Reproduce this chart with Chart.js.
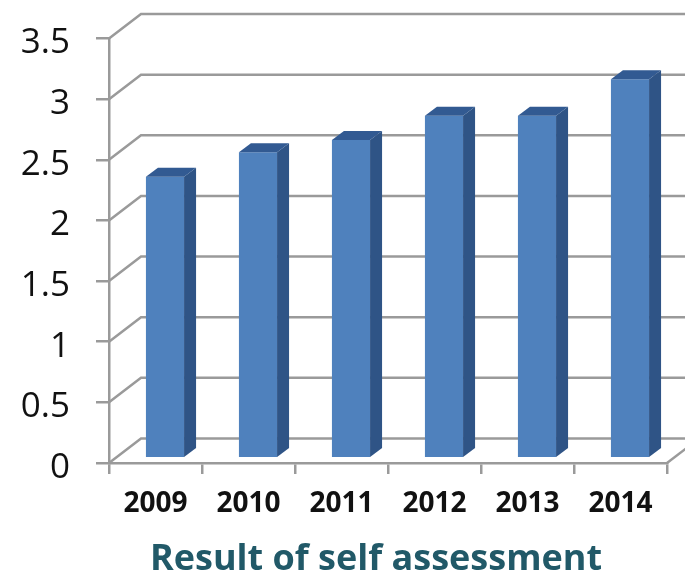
<!DOCTYPE html>
<html>
<head>
<meta charset="utf-8">
<style>html,body{margin:0;padding:0;background:#fff}#wrap{width:685px;height:577px}</style>
<script src="https://cdn.jsdelivr.net/npm/chart.js@4"></script>
</head>
<body>
<div id="wrap"><canvas id="c" width="685" height="577"></canvas></div>
<script>
const categories = ['2009','2010','2011','2012','2013','2014'];
const selfAssessment = [2.3,2.5,2.6,2.8,2.8,3.1];
const axisTitle = 'Result of self assessment';

const GRID = '#9a9a9a';
const wallDx = 32, wallDy = 24.5;
const barShift = 9.5, depthX = 12, depthY = 9;

const walls3d = {
  id: 'walls3d',
  beforeDatasetsDraw(chart) {
    const { ctx, scales: { x, y } } = chart;
    ctx.save();
    ctx.strokeStyle = GRID;
    ctx.lineWidth = 2.5;
    ctx.lineJoin = 'miter';
    y.ticks.forEach(t => {
      const py = y.getPixelForValue(t.value);
      ctx.beginPath();
      ctx.moveTo(x.left, py);
      ctx.lineTo(x.left + wallDx, py - wallDy);
      ctx.lineTo(chart.width + 5, py - wallDy);
      ctx.stroke();
    });
    const by = y.getPixelForValue(0);
    ctx.beginPath();
    ctx.moveTo(x.right, by);
    ctx.lineTo(x.right + wallDx, by - wallDy);
    ctx.stroke();
    ctx.restore();
  },
  beforeDatasetDraw(chart) {
    chart.ctx.save();
    chart.ctx.translate(barShift, 0);
  },
  afterDatasetDraw(chart, args) {
    const ctx = chart.ctx;
    args.meta.data.forEach(b => {
      const l = b.x - b.width / 2, r = b.x + b.width / 2;
      ctx.fillStyle = '#2f5486';
      ctx.beginPath();
      ctx.moveTo(r, b.y);
      ctx.lineTo(r + depthX, b.y - depthY);
      ctx.lineTo(r + depthX, b.base - depthY);
      ctx.lineTo(r, b.base);
      ctx.closePath();
      ctx.fill();
      ctx.fillStyle = '#325a92';
      ctx.beginPath();
      ctx.moveTo(l, b.y);
      ctx.lineTo(l + depthX, b.y - depthY);
      ctx.lineTo(r + depthX, b.y - depthY);
      ctx.lineTo(r, b.y);
      ctx.closePath();
      ctx.fill();
    });
    ctx.restore();
  },
  afterDraw(chart) {
    const ctx = chart.ctx;
    ctx.save();
    ctx.font = 'bold 36px "Open Sans"';
    ctx.fillStyle = '#215968';
    ctx.textAlign = 'center';
    ctx.textBaseline = 'middle';
    ctx.fillText(axisTitle, 376, 560);
    ctx.restore();
  }
};

new Chart(document.getElementById('c'), {
  type: 'bar',
  data: {
    labels: categories,
    datasets: [{
      data: selfAssessment,
      yAxisID: 'y2',
      backgroundColor: '#4f81bd',
      borderWidth: 0,
      barPercentage: 0.41,
      categoryPercentage: 1
    }]
  },
  plugins: [walls3d],
  options: {
    responsive: false,
    animation: false,
    devicePixelRatio: 1,
    layout: { padding: { top: 38.5, right: 18, left: 0, bottom: 0 } },
    plugins: { legend: { display: false }, tooltip: { enabled: false }, title: { display: false } },
    scales: {
      x: {
        offset: true,
        afterFit(s) { s.height = 114; },
        grid: { offset: true, drawOnChartArea: false, drawTicks: true, tickLength: 11, color: GRID, lineWidth: 2.5 },
        border: { color: GRID, width: 2.5 },
        ticks: { color: '#111', padding: 13, maxRotation: 0, font: { family: 'Open Sans', size: 28, weight: 'bold' } }
      },
      y: {
        min: 0, max: 3.5,
        afterFit(s) { s.width = 109; },
        ticks: { stepSize: 0.5, color: '#111', padding: 26, font: { family: 'Open Sans', size: 35, lineHeight: 0.28 },
                 callback: v => ['', String(v)] },
        grid: { drawOnChartArea: false, drawTicks: true, tickLength: 13, color: GRID, lineWidth: 2.5 },
        border: { color: GRID, width: 2.5 }
      },
      y2: { display: false, min: -0.05, max: 3.434 }
    }
  }
});
</script>
</body>
</html>
